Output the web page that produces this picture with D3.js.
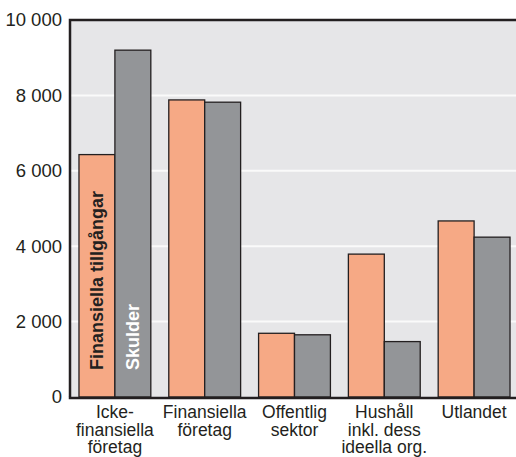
<!DOCTYPE html>
<html>
<head>
<meta charset="utf-8">
<script src="https://cdn.jsdelivr.net/npm/d3@7"></script>
<style>
  html, body { margin: 0; padding: 0; background: #fff; }
  svg { display: block; }
  text { font-family: "Liberation Sans", Arial, Helvetica, sans-serif; }
</style>
</head>
<body>
<svg id="chart" width="516" height="457"></svg>
<script>
const categories = [
  ["Icke-", "finansiella", "företag"],
  ["Finansiella", "företag"],
  ["Offentlig", "sektor"],
  ["Hushåll", "inkl. dess", "ideella org."],
  ["Utlandet"]
];
const categoryKeys = ["Icke-finansiella företag", "Finansiella företag", "Offentlig sektor", "Hushåll inkl. dess ideella org.", "Utlandet"];
const seriesNames = ["Finansiella tillgångar", "Skulder"];
const tillgangar = [6430, 7880, 1690, 3790, 4670];
const skulder = [9200, 7820, 1650, 1470, 4240];
const yTicks = [0, 2000, 4000, 6000, 8000, 10000];
const yTickLabels = ["0", "2 000", "4 000", "6 000", "8 000", "10 000"];

(function () {
const svg = d3.select("#chart");
const mL = 70, mR = 516, mT = 20, mB = 397;

const x = d3.scaleBand().domain(categoryKeys).range([mL, 519]).paddingInner(0.2).paddingOuter(0.1);
const xs = d3.scaleBand().domain(seriesNames).range([0, x.bandwidth()]);
const y = d3.scaleLinear().domain([0, 10000]).range([mB, mT]);

svg.append("rect").attr("x", mL).attr("y", mT).attr("width", mR - mL).attr("height", mB - mT)
  .attr("fill", "#e6e6e8");

svg.append("g").selectAll("line").data(yTicks.filter(d => d > 0 && d < 10000)).join("line")
  .attr("x1", mL).attr("x2", mR)
  .attr("y1", d => y(d)).attr("y2", d => y(d))
  .attr("stroke", "#fafafa").attr("stroke-width", 2);

const colors = { "Finansiella tillgångar": "#f6a985", "Skulder": "#939598" };
const data = [];
categoryKeys.forEach((c, i) => {
  data.push({ cat: c, s: seriesNames[0], v: tillgangar[i] });
  data.push({ cat: c, s: seriesNames[1], v: skulder[i] });
});

svg.append("g").selectAll("rect").data(data).join("rect")
  .attr("x", d => x(d.cat) + xs(d.s))
  .attr("y", d => y(d.v))
  .attr("width", xs.bandwidth())
  .attr("height", d => y(0) - y(d.v))
  .attr("fill", d => colors[d.s])
  .attr("stroke", "#231f20").attr("stroke-width", 1.3);

svg.append("path")
  .attr("d", `M${mL},${mB} V${mT} H${mR}`)
  .attr("fill", "none").attr("stroke", "#231f20").attr("stroke-width", 2.5);
svg.append("line").attr("x1", mL - 1.25).attr("x2", mR).attr("y1", mB + 1).attr("y2", mB + 1)
  .attr("stroke", "#231f20").attr("stroke-width", 2.5);

const yAxis = d3.axisLeft(y).tickValues(yTicks).tickFormat((d, i) => yTickLabels[i]).tickSize(0).tickPadding(8);
const yg = svg.append("g").attr("transform", `translate(${mL},0)`).call(yAxis);
yg.select(".domain").remove();
yg.selectAll("text").attr("font-size", 18.5).attr("fill", "#231f20")
  .attr("font-family", "'Liberation Sans', Arial, sans-serif");

const xg = svg.append("g");
categoryKeys.forEach((d, i) => {
  categories[i].forEach((line, j) => {
    xg.append("text")
      .attr("text-anchor", "middle")
      .attr("font-size", 17.5).attr("fill", "#231f20")
      .attr("x", x(d) + x.bandwidth() / 2).attr("y", 418 + j * 17.5).text(line);
  });
});

const c0 = categoryKeys[0];
svg.append("text")
  .attr("transform", `translate(${x(c0) + xs(seriesNames[0]) + xs.bandwidth() / 2 + 6.5},370) rotate(-90)`)
  .attr("font-size", 18).attr("font-weight", "bold").attr("fill", "#231f20")
  .text(seriesNames[0]);
svg.append("text")
  .attr("transform", `translate(${x(c0) + xs(seriesNames[1]) + xs.bandwidth() / 2 + 6.5},370) rotate(-90)`)
  .attr("font-size", 18).attr("font-weight", "bold").attr("fill", "#ffffff")
  .text(seriesNames[1]);
})();
</script>
</body>
</html>
